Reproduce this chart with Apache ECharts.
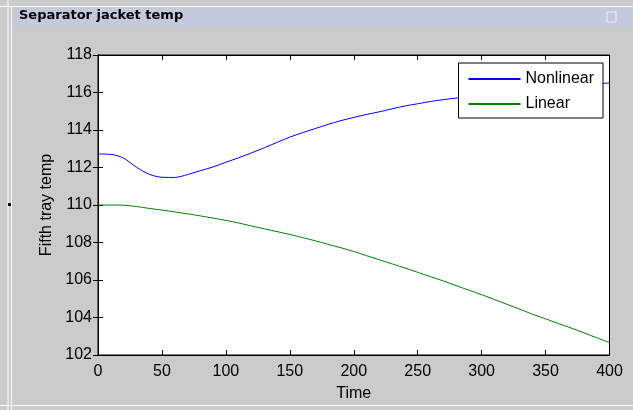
<!DOCTYPE html>
<html>
<head>
<meta charset="utf-8">
<script src="https://cdn.jsdelivr.net/npm/echarts@6/dist/echarts.min.js"></script>
<style>
html,body{margin:0;padding:0;background:#cbcbcb;}
#c{width:633px;height:410px;}
</style>
</head>
<body>
<div id="c"></div>
<script>
var chartTitle = 'Separator jacket temp';
var seriesNames = ['Nonlinear', 'Linear'];
var xName = 'Time';
var yName = 'Fifth tray temp';
var time = [0,10,20,30,40,50,60,70,80,90,100,110,120,130,140,150,160,170,180,190,200,
            210,220,230,240,250,260,270,280,290,300,310,320,330,340,350,360,370,380,390,400];
var nonlinear = [112.72,112.70,112.50,112.02,111.64,111.48,111.47,111.62,111.83,112.03,112.28,
                 112.52,112.78,113.05,113.34,113.62,113.86,114.08,114.30,114.50,114.67,
                 114.83,114.97,115.13,115.28,115.40,115.52,115.62,115.70,115.78,115.85,
                 115.93,116.00,116.07,116.14,116.21,116.28,116.34,116.40,116.46,116.51];
var linear = [110.00,110.00,109.99,109.92,109.82,109.73,109.63,109.53,109.42,109.30,109.18,
              109.04,108.88,108.73,108.58,108.43,108.26,108.09,107.90,107.72,107.52,
              107.30,107.08,106.86,106.64,106.41,106.18,105.95,105.70,105.46,105.22,
              104.96,104.70,104.44,104.17,103.93,103.68,103.44,103.18,102.92,102.66];
var xTicks = {min:0, max:400, interval:50};
var yTicks = {min:102, max:118, interval:2};

function pairs(xs, ys){ return xs.map(function(x,i){ return [x, ys[i]]; }); }

var chart = echarts.init(document.getElementById('c'), null, {renderer:'canvas'});
var font = 'Liberation Sans, Arial, sans-serif';
var axisCommon = {
  axisLine:{show:true, lineStyle:{color:'#000', width:1}},
  axisTick:{show:true, inside:true, length:5, lineStyle:{color:'#000'}},
  splitLine:{show:false}
};
chart.setOption({
  backgroundColor:'#cbcbcb',
  animation:false,
  graphic:[
    {type:'rect', shape:{x:0,y:6,width:633,height:1}, style:{fill:'#ffffff'}, z:-1},
    {type:'rect', shape:{x:7,y:0,width:2,height:410}, style:{fill:'#e6e6e6'}, z:-1},
    {type:'rect', shape:{x:11,y:7,width:1,height:403}, style:{fill:'#ffffff'}, z:-1},
    {type:'rect', shape:{x:14,y:8,width:619,height:19}, style:{fill:'#c4cadb'}, z:-1},
    {type:'rect', shape:{x:607,y:12,width:9,height:10}, style:{fill:'none', stroke:'#eef0f6', lineWidth:1}},
    {type:'rect', shape:{x:8,y:203,width:3,height:3}, style:{fill:'#000'}},
    {type:'rect', shape:{x:0,y:405,width:633,height:1}, style:{fill:'#ffffff'}, z:-1},
    {type:'text', left:19, top:9, style:{text:chartTitle, font:'bold 13px "DejaVu Sans", sans-serif', fill:'#000'}}
  ],
  grid:{left:98, right:23.5, top:55, bottom:55, show:true, backgroundColor:'#ffffff', borderColor:'#000', borderWidth:1},
  xAxis:[
    Object.assign({type:'value', min:xTicks.min, max:xTicks.max, interval:xTicks.interval, position:'bottom',
      name:xName, nameLocation:'middle', nameGap:31,
      nameTextStyle:{fontFamily:font, fontSize:16, color:'#000'},
      axisLabel:{fontFamily:font, fontSize:16, color:'#000', margin:9}}, axisCommon),
    Object.assign({type:'value', min:xTicks.min, max:xTicks.max, interval:xTicks.interval, position:'top',
      axisLabel:{show:false}}, axisCommon)
  ],
  yAxis:[
    Object.assign({type:'value', min:yTicks.min, max:yTicks.max, interval:yTicks.interval, position:'left',
      name:yName, nameLocation:'middle', nameGap:43,
      nameTextStyle:{fontFamily:font, fontSize:16, color:'#000'},
      axisLabel:{fontFamily:font, fontSize:16, color:'#000', margin:6}}, axisCommon),
    Object.assign({type:'value', min:yTicks.min, max:yTicks.max, interval:yTicks.interval, position:'right',
      axisLabel:{show:false}}, axisCommon)
  ],
  legend:{
    orient:'vertical', right:30, top:63,
    backgroundColor:'#ffffff', borderColor:'#000', borderWidth:1,
    padding:[8,9,6,10], itemGap:9, itemWidth:52, itemHeight:2,
    icon:'rect',
    textStyle:{fontFamily:font, fontSize:16, color:'#000'},
    data:seriesNames
  },
  series:[
    {name:seriesNames[0], type:'line', data:pairs(time, nonlinear), showSymbol:false, smooth:0.3,
     lineStyle:{color:'#0000ff', width:1}, itemStyle:{color:'#0000ff'}},
    {name:seriesNames[1], type:'line', data:pairs(time, linear), showSymbol:false, smooth:0.3,
     lineStyle:{color:'#008000', width:1}, itemStyle:{color:'#008000'}}
  ]
});
</script>
</body>
</html>
